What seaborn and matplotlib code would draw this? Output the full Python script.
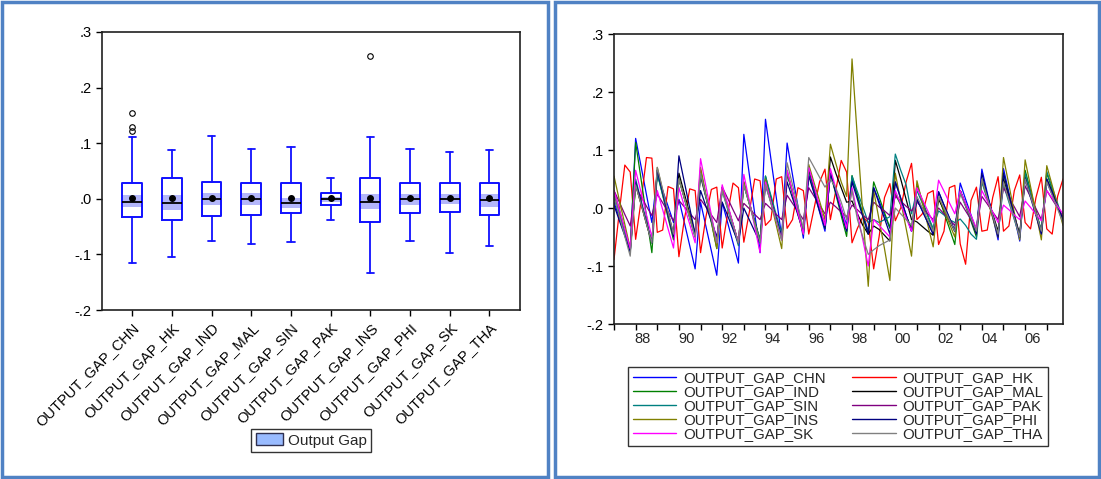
import numpy as np
import pandas as pd
import matplotlib
matplotlib.use('Agg')
import matplotlib.pyplot as plt
from matplotlib.patches import Rectangle, Patch
from matplotlib.lines import Line2D
from matplotlib.ticker import FuncFormatter, FixedLocator, NullFormatter
import seaborn as sns

sns.set_style('ticks')
plt.rcParams['font.family'] = ['Liberation Sans', 'DejaVu Sans']

# series names
countries = ['CHN', 'HK', 'IND', 'MAL', 'SIN', 'PAK', 'INS', 'PHI', 'SK', 'THA']
labels = ['OUTPUT_GAP_' + c for c in countries]
colors = ['#0000FF', '#FF0000', '#008000', '#000000', '#008080',
          '#800080', '#808000', '#000080', '#FF00FF', '#808080']

# box plot summary
box_whi = [0.112, 0.087, 0.113, 0.089, 0.094, 0.038, 0.112, 0.089, 0.084, 0.087]
box_q3 = [0.028, 0.038, 0.031, 0.028, 0.028, 0.011, 0.038, 0.028, 0.029, 0.029]
box_med = [-0.005, -0.007, -0.001, -0.001, -0.007, -0.001, -0.005, -0.001, -0.001, -0.003]
box_q1 = [-0.032, -0.039, -0.031, -0.030, -0.025, -0.012, -0.042, -0.025, -0.024, -0.030]
box_wlo = [-0.116, -0.104, -0.076, -0.081, -0.078, -0.038, -0.134, -0.076, -0.098, -0.084]
box_mean = [0.001, 0.001, 0.001, 0.001, 0.001, 0.001, 0.001, 0.001, 0.001, 0.001]
ci_hi = [0.007, 0.007, 0.011, 0.010, 0.002, 0.004, 0.009, 0.009, 0.009, 0.008]
ci_lo = [-0.015, -0.021, -0.012, -0.012, -0.017, -0.006, -0.019, -0.011, -0.010, -0.014]
box_fliers = [[0.155, 0.129, 0.122], [], [], [], [], [], [0.257], [], [], []]

# quarterly output gaps 1987Q1-2007Q4
quarters = pd.period_range('1987Q1', '2007Q4', freq='Q')

gap_chn = [0.010, -0.017, -0.043, -0.070, 0.120, 0.072, 0.023, -0.025,
           0.058, 0.030, 0.003, -0.025, 0.015, -0.025, -0.065, -0.105,
           0.010, -0.032, -0.074, -0.116, 0.010, -0.025, -0.060, -0.095,
           0.127, 0.059, -0.009, -0.077, 0.153, 0.085, 0.018, -0.050,
           0.112, 0.057, 0.003, -0.052, 0.060, 0.027, -0.007, -0.040,
           0.060, 0.030, 0.000, -0.030, 0.050, 0.020, -0.010, -0.040,
           0.035, 0.012, -0.012, -0.035, 0.045, 0.017, -0.012, -0.040,
           0.015, -0.005, -0.025, -0.045, 0.028, 0.005, -0.017, -0.040,
           0.043, 0.015, -0.012, -0.040, 0.067, 0.026, -0.014, -0.055,
           0.068, 0.026, -0.015, -0.057, 0.060, 0.025, -0.010, -0.045,
           0.045, 0.023, 0.002, -0.020]
gap_hk = [-0.089, -0.005, 0.074, 0.062, -0.054, 0.012, 0.087, 0.086,
          -0.042, -0.038, 0.037, 0.033, -0.084, -0.020, 0.033, 0.030,
          -0.077, -0.015, 0.032, 0.036, -0.069, -0.010, 0.043, 0.035,
          -0.059, -0.008, 0.050, 0.047, -0.030, -0.020, 0.050, 0.054,
          -0.035, -0.020, 0.035, 0.030, -0.045, 0.000, 0.045, 0.067,
          -0.020, 0.030, 0.082, 0.062, -0.060, -0.035, -0.015, -0.025,
          -0.105, -0.050, 0.018, 0.042, -0.022, 0.000, 0.045, 0.077,
          -0.020, -0.010, 0.025, 0.030, -0.063, -0.040, 0.035, 0.039,
          -0.062, -0.097, 0.013, 0.036, -0.040, -0.038, 0.018, 0.054,
          -0.040, -0.031, 0.030, 0.057, -0.025, -0.036, 0.018, 0.053,
          -0.036, -0.045, 0.020, 0.050]
gap_ind = [0.030, -0.003, -0.037, -0.070, 0.113, 0.050, -0.014, -0.077,
           0.060, 0.022, -0.017, -0.055, 0.050, 0.017, -0.017, -0.050,
           0.065, 0.020, -0.025, -0.070, 0.035, 0.003, -0.028, -0.060,
           0.045, 0.010, -0.025, -0.060, 0.055, 0.018, -0.018, -0.055,
           0.060, 0.025, -0.010, -0.045, 0.065, 0.032, -0.002, -0.035,
           0.060, 0.024, -0.013, -0.049, 0.056, 0.022, -0.011, -0.045,
           0.045, 0.019, -0.008, -0.034, 0.025, 0.005, -0.014, -0.034,
           0.040, 0.013, -0.013, -0.040, 0.020, -0.008, -0.035, -0.063,
           0.030, 0.003, -0.023, -0.050, 0.050, 0.018, -0.013, -0.045,
           0.060, 0.023, -0.013, -0.050, 0.065, 0.030, -0.005, -0.040,
           0.060, 0.032, 0.003, -0.025]
gap_mal = [0.020, -0.012, -0.043, -0.075, 0.040, 0.007, -0.027, -0.060,
           0.065, 0.028, -0.008, -0.045, 0.060, 0.025, -0.010, -0.045,
           0.055, 0.018, -0.018, -0.055, 0.035, 0.003, -0.028, -0.060,
           0.040, 0.008, -0.023, -0.055, 0.045, 0.013, -0.018, -0.050,
           0.060, 0.027, -0.007, -0.040, 0.065, 0.033, 0.002, -0.030,
           0.088, 0.060, 0.035, 0.010, 0.012, -0.010, -0.030, -0.045,
           -0.031, -0.037, -0.047, -0.057, 0.082, 0.050, 0.015, -0.020,
           -0.024, -0.032, -0.040, -0.047, 0.015, -0.003, -0.022, -0.040,
           0.030, 0.007, -0.017, -0.040, 0.050, 0.020, -0.010, -0.040,
           0.050, 0.018, -0.013, -0.045, 0.055, 0.023, -0.008, -0.040,
           0.050, 0.027, 0.003, -0.020]
gap_sin = [0.020, -0.012, -0.043, -0.075, 0.050, 0.013, -0.023, -0.060,
           0.060, 0.023, -0.013, -0.050, 0.050, 0.017, -0.017, -0.050,
           0.060, 0.020, -0.020, -0.060, 0.030, -0.002, -0.033, -0.065,
           0.040, 0.008, -0.023, -0.055, 0.055, 0.022, -0.012, -0.045,
           0.060, 0.027, -0.007, -0.040, 0.060, 0.028, -0.003, -0.035,
           0.060, 0.027, -0.007, -0.040, 0.055, 0.028, 0.002, -0.025,
           -0.020, -0.025, -0.020, -0.015, 0.093, 0.065, 0.040, -0.010,
           0.030, 0.008, -0.013, -0.035, -0.005, -0.012, -0.020, -0.025,
           -0.019, -0.030, -0.045, -0.054, 0.045, 0.015, -0.015, -0.045,
           0.040, 0.010, -0.020, -0.050, 0.060, 0.027, -0.007, -0.040,
           0.063, 0.035, 0.008, -0.020]
gap_pak = [0.030, 0.010, -0.011, -0.031, 0.036, 0.020, 0.003, -0.013,
           0.024, 0.009, -0.007, -0.022, 0.013, 0.002, -0.009, -0.020,
           0.015, 0.002, -0.012, -0.025, 0.036, 0.017, -0.003, -0.022,
           0.008, -0.001, -0.011, -0.020, 0.008, -0.001, -0.011, -0.020,
           0.022, 0.008, -0.006, -0.020, 0.035, 0.020, 0.005, -0.010,
           0.010, 0.002, -0.007, -0.015, 0.005, -0.003, -0.012, -0.020,
           0.010, 0.002, -0.005, -0.013, 0.020, 0.012, 0.003, -0.005,
           0.010, 0.000, -0.010, -0.020, 0.000, -0.010, -0.020, -0.030,
           0.010, -0.005, -0.020, -0.035, 0.020, 0.007, -0.007, -0.020,
           0.035, 0.018, 0.002, -0.015, 0.038, 0.019, -0.001, -0.020,
           0.030, 0.015, 0.000, -0.015]
gap_ins = [0.055, 0.013, -0.028, -0.070, 0.040, 0.007, -0.027, -0.060,
           0.070, 0.030, -0.010, -0.050, 0.050, 0.018, -0.013, -0.045,
           0.070, 0.023, -0.023, -0.070, 0.035, 0.003, -0.028, -0.060,
           0.045, 0.010, -0.025, -0.060, 0.050, 0.010, -0.030, -0.070,
           0.065, 0.028, -0.008, -0.045, 0.075, 0.043, 0.012, -0.020,
           0.110, 0.077, 0.045, 0.020, 0.257, 0.120, -0.010, -0.135,
           0.030, -0.020, -0.070, -0.125, 0.060, 0.012, -0.035, -0.083,
           0.047, 0.009, -0.029, -0.067, 0.020, -0.003, -0.027, -0.050,
           0.030, 0.005, -0.020, -0.045, 0.050, 0.017, -0.017, -0.050,
           0.087, 0.040, -0.008, -0.055, 0.083, 0.037, -0.009, -0.055,
           0.073, 0.039, 0.004, -0.030]
gap_phi = [0.005, -0.022, -0.048, -0.075, 0.045, 0.010, -0.025, -0.060,
           0.065, 0.027, -0.012, -0.050, 0.090, 0.045, 0.000, -0.045,
           0.030, 0.003, -0.023, -0.050, 0.010, -0.013, -0.037, -0.060,
           0.000, -0.020, -0.040, -0.060, 0.040, 0.010, -0.020, -0.050,
           0.045, 0.017, -0.012, -0.040, 0.055, 0.025, -0.005, -0.035,
           0.060, 0.027, -0.007, -0.040, 0.045, 0.015, -0.015, -0.045,
           0.035, 0.008, -0.018, -0.045, 0.045, 0.017, -0.012, -0.040,
           0.015, -0.005, -0.025, -0.045, 0.028, 0.005, -0.017, -0.040,
           0.030, 0.005, -0.020, -0.045, 0.060, 0.023, -0.013, -0.050,
           0.060, 0.023, -0.013, -0.050, 0.050, 0.018, -0.013, -0.045,
           0.050, 0.027, 0.003, -0.020]
gap_sk = [0.030, -0.003, -0.037, -0.070, 0.065, 0.027, -0.012, -0.050,
          0.030, -0.003, -0.036, -0.069, 0.035, 0.003, -0.028, -0.060,
          0.085, 0.037, -0.012, -0.060, 0.040, 0.007, -0.027, -0.060,
          0.058, 0.013, -0.032, -0.077, 0.045, 0.012, -0.022, -0.055,
          0.065, 0.028, -0.008, -0.045, 0.070, 0.037, 0.003, -0.030,
          0.068, 0.034, -0.001, -0.035, 0.035, -0.010, -0.055, -0.100,
          -0.020, -0.030, -0.040, -0.050, 0.030, 0.007, -0.017, -0.040,
          0.035, 0.015, -0.005, -0.025, 0.048, 0.029, 0.009, -0.010,
          0.030, 0.008, -0.013, -0.035, 0.030, 0.012, -0.007, -0.025,
          0.005, -0.003, -0.012, -0.020, 0.012, 0.001, -0.011, -0.022,
          0.030, 0.017, 0.003, -0.010]
gap_tha = [0.020, -0.014, -0.049, -0.083, 0.040, 0.007, -0.027, -0.060,
           0.070, 0.032, -0.007, -0.045, 0.050, 0.017, -0.017, -0.050,
           0.060, 0.020, -0.020, -0.060, 0.030, 0.000, -0.030, -0.060,
           0.040, 0.007, -0.027, -0.060, 0.040, 0.008, -0.023, -0.055,
           0.078, 0.040, 0.003, -0.035, 0.087, 0.070, 0.053, 0.036,
           0.050, 0.035, 0.010, -0.020, 0.030, -0.020, -0.050, -0.080,
           -0.072, -0.065, -0.060, -0.055, 0.000, -0.010, -0.020, -0.030,
           0.020, 0.000, -0.020, -0.040, 0.020, 0.000, -0.020, -0.040,
           0.025, 0.003, -0.018, -0.040, 0.050, 0.018, -0.013, -0.045,
           0.045, 0.013, -0.018, -0.050, 0.050, 0.020, -0.010, -0.040,
           0.045, 0.022, -0.002, -0.025]

series = [gap_chn, gap_hk, gap_ind, gap_mal, gap_sin,
          gap_pak, gap_ins, gap_phi, gap_sk, gap_tha]

x_time = quarters.year + (quarters.quarter - 1) / 4.0
frames = []
for name, vals in zip(labels, series):
    frames.append(pd.DataFrame({'time': x_time, 'gap': vals, 'series': name}))
df = pd.concat(frames, ignore_index=True)
palette = dict(zip(labels, colors))


def dot_fmt(v, _):
    s = f'{v:.1f}'
    return s.replace('0.', '.')


W, H = 1101, 479
fig = plt.figure(figsize=(W / 100, H / 100), dpi=100)

# panel frames
for x0, x1 in [(2, 548), (555, 1099)]:
    fig.add_artist(Rectangle((x0 / W, 2 / H), (x1 - x0) / W, (H - 4) / H,
                             transform=fig.transFigure, fill=False,
                             edgecolor='#5082C4', lw=2.5))

# ---- left: box plots
ax1 = fig.add_axes([102 / W, (H - 310) / H, 418 / W, 278 / H])
pos = np.arange(1, len(labels) + 1)
stats = []
for i in range(len(labels)):
    stats.append(dict(med=box_med[i], q1=box_q1[i], q3=box_q3[i],
                      whislo=box_wlo[i], whishi=box_whi[i],
                      mean=box_mean[i], fliers=box_fliers[i], label=labels[i]))

ax1.bar(pos, np.array(ci_hi) - np.array(ci_lo), bottom=ci_lo, width=0.5,
        color='#B3B6FA', zorder=1, linewidth=0)
blue = '#1010FF'
ax1.bxp(stats, positions=pos, widths=0.5, capwidths=0.18, showmeans=True,
        boxprops=dict(color=blue, lw=1.4),
        whiskerprops=dict(color=blue, lw=1.3),
        capprops=dict(color=blue, lw=1.3),
        medianprops=dict(color='black', lw=1.3),
        meanprops=dict(marker='o', markerfacecolor='black',
                       markeredgecolor='black', markersize=4),
        flierprops=dict(marker='o', markerfacecolor='none',
                        markeredgecolor='black', markersize=4,
                        markeredgewidth=0.8))
ax1.set_xlim(0.24, 10.77)
ax1.set_ylim(-0.2, 0.3)
ax1.set_yticks([-0.2, -0.1, 0.0, 0.1, 0.2, 0.3])
ax1.yaxis.set_major_formatter(FuncFormatter(dot_fmt))
ax1.set_xticks(pos)
ax1.set_xticklabels(labels, rotation=45, ha='right', rotation_mode='anchor')

ax1.legend(handles=[Patch(facecolor='#99BBFF', edgecolor='#303050', lw=1.0,
                          label='Output Gap')],
           loc='center', bbox_to_anchor=(311 / W, 1 - 440.5 / H),
           bbox_transform=fig.transFigure, fontsize=11, frameon=True,
           fancybox=False, edgecolor='black', handlelength=1.8,
           handleheight=0.8, handletextpad=0.3, borderpad=0.3,
           borderaxespad=0)

# ---- right: line chart
ax2 = fig.add_axes([614 / W, (H - 324) / H, 449 / W, 290 / H])
sns.lineplot(data=df, x='time', y='gap', hue='series', hue_order=labels,
             palette=palette, lw=0.9, legend=False, estimator=None,
             errorbar=None, sort=False, ax=ax2)
ax2.set_xlim(1987, 2007.75)
ax2.set_ylim(-0.2, 0.3)
ax2.set_yticks([-0.2, -0.1, 0.0, 0.1, 0.2, 0.3])
ax2.yaxis.set_major_formatter(FuncFormatter(dot_fmt))
years = list(range(1987, 2008))
label_years = [y for y in years if y % 2 == 0]
ax2.xaxis.set_major_locator(FixedLocator(years))
ax2.xaxis.set_major_formatter(NullFormatter())
ax2.xaxis.set_minor_locator(FixedLocator([y + 0.34 for y in label_years]))
ax2.xaxis.set_minor_formatter(
    FuncFormatter(lambda v, _: f'{int(round(v - 0.34)) % 100:02d}'))
ax2.tick_params(axis='x', which='minor', length=0, labelsize=10.5, pad=5.5)
ax2.set_xlabel('')
ax2.set_ylabel('')

order = [0, 2, 4, 6, 8, 1, 3, 5, 7, 9]
handles = [Line2D([], [], color=colors[i], lw=1.0) for i in order]
ax2.legend(handles, [labels[i] for i in order], ncol=2, loc='center',
           mode='expand',
           bbox_to_anchor=(628 / W, (H - 449) / H, 420 / W, 85 / H),
           bbox_transform=fig.transFigure, fontsize=10.8, frameon=True,
           fancybox=False, edgecolor='black', handlelength=2.9,
           handletextpad=0.45, columnspacing=1.0, labelspacing=0.0,
           borderpad=0.3, borderaxespad=0)

for ax in (ax1, ax2):
    for sp in ax.spines.values():
        sp.set_visible(True)
        sp.set_color('#202020')
        sp.set_linewidth(1.2)
    ax.tick_params(which='major', direction='out', length=4, width=1,
                   labelsize=10.5, colors='black')

fig.savefig('out.png', dpi=100)
